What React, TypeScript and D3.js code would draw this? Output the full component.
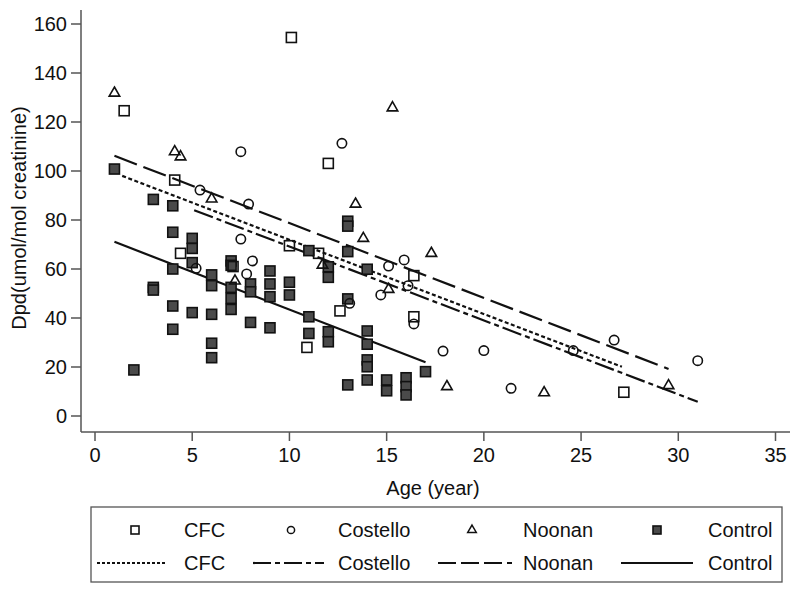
import React from "react";
import * as d3 from "d3";

const xTicks = [0, 5, 10, 15, 20, 25, 30, 35];
const yTicks = [0, 20, 40, 60, 80, 100, 120, 140, 160];

const cfcX = [10.1, 1.5, 4.1, 4.4, 7.1, 10.0, 10.9, 11.5, 12.0, 12.6, 16.4, 16.4, 27.2];
const cfcY = [154.5, 124.6, 96.3, 66.4, 61.0, 69.5, 28.0, 66.4, 103.1, 42.9, 57.3, 40.5, 9.7];

const costelloX = [7.5, 5.4, 7.9, 7.5, 5.2, 8.1, 7.8, 12.7, 15.9, 15.1, 16.1, 14.7, 13.1, 16.4, 17.9, 20.0, 21.4, 24.6, 26.7, 31.0];
const costelloY = [107.9, 92.2, 86.5, 72.2, 60.3, 63.3, 58.0, 111.3, 63.7, 61.2, 53.2, 49.4, 46.0, 37.6, 26.5, 26.7, 11.3, 26.7, 31.0, 22.6];

const noonanX = [1.0, 4.1, 4.4, 6.0, 7.2, 13.4, 13.8, 17.3, 11.7, 15.1, 15.3, 18.1, 23.1, 29.5];
const noonanY = [131.8, 107.9, 105.8, 88.6, 55.1, 86.5, 72.5, 66.4, 61.6, 51.7, 125.8, 12.0, 9.5, 12.4];

const controlX = [1.0, 3.0, 4.0, 4.0, 5.0, 5.0, 5.0, 4.0, 7.0, 7.0, 6.0, 6.0, 7.0, 7.0, 7.0, 8.0, 8.0, 9.0, 9.0, 9.0, 10.0, 10.0, 11.0, 3.0, 3.0, 4.0, 5.0, 6.0, 4.0, 8.0, 9.0, 6.0, 6.0, 2.0, 11.0, 11.0, 13.0, 13.0, 13.0, 12.0, 12.0, 14.0, 13.0, 12.0, 12.0, 14.0, 14.0, 14.0, 14.0, 14.0, 13.0, 15.0, 15.0, 16.0, 16.0, 16.0, 17.0];
const controlY = [100.8, 88.4, 85.8, 75.0, 72.5, 68.4, 62.6, 60.0, 63.3, 61.5, 57.6, 53.2, 52.5, 48.0, 43.5, 53.9, 50.7, 59.2, 53.9, 48.7, 54.6, 49.4, 67.5, 52.5, 51.4, 44.9, 42.2, 41.5, 35.4, 38.2, 36.0, 29.7, 23.8, 18.8, 40.5, 33.7, 79.5, 77.5, 67.1, 60.9, 56.6, 59.9, 47.8, 34.4, 30.3, 34.7, 29.3, 22.9, 20.1, 14.7, 12.7, 14.7, 10.3, 15.6, 12.0, 8.6, 18.1];

const fitNames = ["CFC", "Costello", "Noonan", "Control"];
const fitX0 = [1.4, 5.1, 1.0, 1.0];
const fitX1 = [27.1, 31.0, 29.5, 17.0];
const fitY0 = [98.0, 84.0, 106.2, 71.1];
const fitY1 = [20.1, 5.8, 19.2, 21.9];

const dashes = ["4,2.5", "20,4,5,4", "24,7", "none"];
const legendDashes = ["3,2", "18,4,5,4", "18,5", "none"];

const FONT = "'Liberation Sans', Arial, sans-serif";
const FILL = "#4a4a4a";
const AXIS = "#555";
const FS = 20;

export default function App() {
  const x = d3.scaleLinear().domain([0, 35]).range([95, 775.5]);
  const y = d3.scaleLinear().domain([0, 160]).range([416, 24]);
  const line = d3.line<[number, number]>().x((d) => x(d[0])).y((d) => y(d[1]));
  const tri = d3.symbol().type(d3.symbolTriangle).size(48)() as string;
  const triSmall = d3.symbol().type(d3.symbolTriangle).size(32)() as string;

  const square = (cx: number, cy: number, key: string, filled: boolean, s = 10) => (
    <rect key={key} x={cx - s / 2} y={cy - s / 2} width={s} height={s}
      fill={filled ? FILL : "none"} stroke="#111" strokeWidth={1.6} />
  );

  const legendMarkX = [135, 291, 472, 657];
  const legendTextX = [184, 338, 523, 708];
  const legendLineX0 = [97, 253, 438, 621];
  const legendLineX1 = [166, 324, 512, 693];
  const row1 = 530;
  const row2 = 563;

  return (
    <svg width={800} height={590} style={{ position: "absolute", left: 0, top: 0, background: "#fff" }} fontFamily={FONT}>
      <rect x={0} y={0} width={800} height={590} fill="#fff" />
      {/* axes */}
      <line x1={81} y1={10} x2={81} y2={432} stroke={AXIS} strokeWidth={1.5} />
      <line x1={81} y1={432} x2={790} y2={432} stroke={AXIS} strokeWidth={1.5} />
      {yTicks.map((t) => (
        <g key={"y" + t}>
          <line x1={71} x2={81} y1={y(t)} y2={y(t)} stroke={AXIS} strokeWidth={1.5} />
          <text x={67} y={y(t)} dy="0.36em" textAnchor="end" fontSize={FS} fill="#111">{t}</text>
        </g>
      ))}
      {xTicks.map((t) => (
        <g key={"x" + t}>
          <line x1={x(t)} x2={x(t)} y1={432} y2={441} stroke={AXIS} strokeWidth={1.5} />
          <text x={x(t)} y={462} textAnchor="middle" fontSize={FS} fill="#111">{t}</text>
        </g>
      ))}
      <text x={433} y={495} textAnchor="middle" fontSize={FS} fill="#111">Age (year)</text>
      <text transform="translate(26,218) rotate(-90)" textAnchor="middle" fontSize={FS} fill="#111">Dpd(umol/mol creatinine)</text>

      {/* fit lines */}
      {fitNames.map((n, i) => (
        <path key={"fit" + n}
          d={line([[fitX0[i], fitY0[i]], [fitX1[i], fitY1[i]]]) as string}
          fill="none" stroke="#111" strokeWidth={2.2}
          strokeDasharray={dashes[i] === "none" ? undefined : dashes[i]} />
      ))}

      {/* points */}
      {controlX.map((v, i) => square(x(v), y(controlY[i]), "ctl" + i, true))}
      {cfcX.map((v, i) => square(x(v), y(cfcY[i]), "cfc" + i, false))}
      {costelloX.map((v, i) => (
        <circle key={"cos" + i} cx={x(v)} cy={y(costelloY[i])} r={4.7} fill="none" stroke="#111" strokeWidth={1.6} />
      ))}
      {noonanX.map((v, i) => (
        <path key={"noo" + i} d={tri} transform={`translate(${x(v)},${y(noonanY[i])})`} fill="none" stroke="#111" strokeWidth={1.6} />
      ))}

      {/* legend */}
      <rect x={91} y={507} width={691} height={75} fill="none" stroke={AXIS} strokeWidth={1.3} />
      {fitNames.map((n, i) => (
        <g key={"leg" + n}>
          {i === 0 && square(legendMarkX[i], row1, "lm0", false, 8)}
          {i === 1 && <circle cx={legendMarkX[i]} cy={row1} r={3.6} fill="none" stroke="#111" strokeWidth={1.5} />}
          {i === 2 && <path d={triSmall} transform={`translate(${legendMarkX[i]},${row1})`} fill="none" stroke="#111" strokeWidth={1.5} />}
          {i === 3 && square(legendMarkX[i], row1, "lm3", true, 8)}
          <text x={legendTextX[i]} y={row1} dy="0.36em" fontSize={FS} fill="#111">{n}</text>
          <line x1={legendLineX0[i]} x2={legendLineX1[i]} y1={row2} y2={row2} stroke="#111" strokeWidth={2.2}
            strokeDasharray={legendDashes[i] === "none" ? undefined : legendDashes[i]} />
          <text x={legendTextX[i]} y={row2} dy="0.36em" fontSize={FS} fill="#111">{n}</text>
        </g>
      ))}
    </svg>
  );
}
